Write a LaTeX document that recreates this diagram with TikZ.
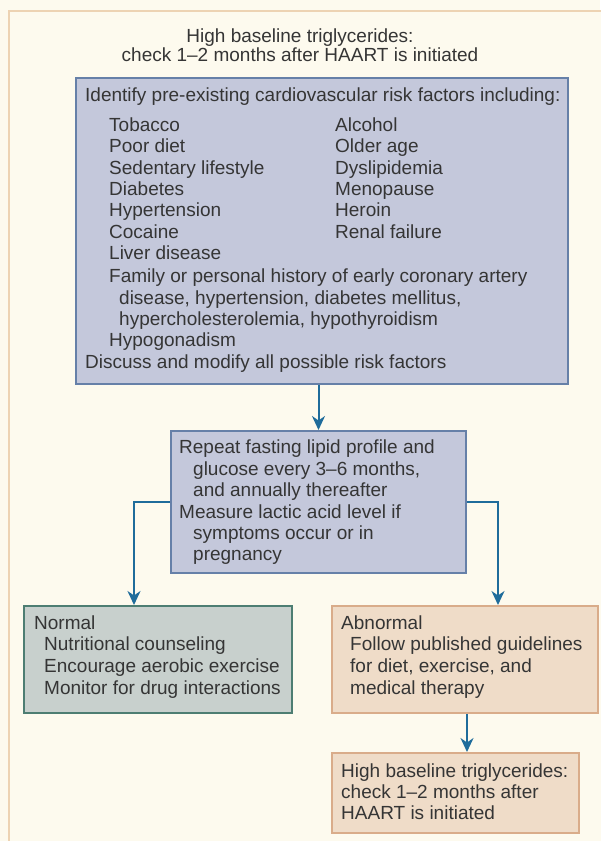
\documentclass[tikz,border=0pt]{standalone}
\usepackage{fontspec}
\setmainfont{Liberation Sans}
\usetikzlibrary{arrows.meta,calc}
\definecolor{frameborder}{HTML}{EDD3B3}
\definecolor{framefill}{HTML}{FDFAEE}
\definecolor{bluefill}{HTML}{C4C8DB}
\definecolor{blueline}{HTML}{6680A8}
\definecolor{greenfill}{HTML}{C8D0CD}
\definecolor{greenline}{HTML}{4D7D72}
\definecolor{tanfill}{HTML}{EFDCC8}
\definecolor{tanline}{HTML}{D9AC8A}
\definecolor{arrowblue}{HTML}{1F6C9B}
\definecolor{txt}{HTML}{353535}
\begin{document}
\begin{tikzpicture}[x=1pt,y=-1pt,
  box/.style={draw, line width=2pt, rectangle, inner sep=0pt, anchor=north west},
  bluebox/.style={box, draw=blueline, fill=bluefill},
  greenbox/.style={box, draw=greenline, fill=greenfill},
  tanbox/.style={box, draw=tanline, fill=tanfill},
  ln/.style={anchor=base west, inner sep=0pt, text=txt, font=\fontsize{19}{21}\selectfont},
  cln/.style={ln, anchor=base},
  arr/.style={draw=arrowblue, line width=2pt, -{Stealth[length=14pt,width=13pt,inset=4.5pt]}}
]
\useasboundingbox (0,0) rectangle (600,841);
\fill[framefill] (0,0) rectangle (600,841);
\draw[frameborder, line width=2.5pt, fill=framefill] (9,11) rectangle (640,880);

% title
\node[cln] (t1) at (300,42) {High baseline triglycerides:};
\node[cln] (t2) at (300,61) {check 1--2 months after HAART is initiated};

% boxes
\node[bluebox, minimum width=492pt, minimum height=306pt] (b1) at (75,77) {};
\node[bluebox, minimum width=295pt, minimum height=142pt] (b2) at (170,430) {};
\node[greenbox, minimum width=268pt, minimum height=107pt] (nor) at (23,605) {};
\node[tanbox, minimum width=266pt, minimum height=107pt] (abn) at (331,605) {};
\node[tanbox, minimum width=247pt, minimum height=80pt] (bot) at (331,752) {};

% box 1 text
\node[ln] (a0) at (85,101) {Identify pre-existing cardiovascular risk factors including:};
\node[ln] (a1) at (109,131) {Tobacco};
\node[ln] (a2) at (109,152) {Poor diet};
\node[ln] (a3) at (109,174) {Sedentary lifestyle};
\node[ln] (a4) at (109,195) {Diabetes};
\node[ln] (a5) at (109,216) {Hypertension};
\node[ln] (a6) at (109,238) {Cocaine};
\node[ln] (a7) at (109,259) {Liver disease};
\node[ln] (a8) at (109,282) {Family or personal history of early coronary artery};
\node[ln] (a9) at (119,304) {disease, hypertension, diabetes mellitus,};
\node[ln] (a10) at (119,325) {hypercholesterolemia, hypothyroidism};
\node[ln] (a11) at (109,346) {Hypogonadism};
\node[ln] (a12) at (85,368) {Discuss and modify all possible risk factors};
\node[ln] (c1) at (335,131) {Alcohol};
\node[ln] (c2) at (335,152) {Older age};
\node[ln] (c3) at (335,174) {Dyslipidemia};
\node[ln] (c4) at (335,195) {Menopause};
\node[ln] (c5) at (335,216) {Heroin};
\node[ln] (c6) at (335,238) {Renal failure};

% box 2 text
\node[ln] (r1) at (179,453) {Repeat fasting lipid profile and};
\node[ln] (r2) at (193,475) {glucose every 3--6 months,};
\node[ln] (r3) at (193,496) {and annually thereafter};
\node[ln] (r4) at (179,518) {Measure lactic acid level if};
\node[ln] (r5) at (193,539) {symptoms occur or in};
\node[ln] (r6) at (193,560) {pregnancy};

% normal text
\node[ln] (n1) at (34,629) {Normal};
\node[ln] (n2) at (44,650) {Nutritional counseling};
\node[ln] (n3) at (44,672) {Encourage aerobic exercise};
\node[ln] (n4) at (44,694) {Monitor for drug interactions};

% abnormal text
\node[ln] (m1) at (341,629) {Abnormal};
\node[ln] (m2) at (350,650) {Follow published guidelines};
\node[ln] (m3) at (350,672) {for diet, exercise, and};
\node[ln] (m4) at (350,694) {medical therapy};

% bottom text
\node[ln] (h1) at (341,777) {High baseline triglycerides:};
\node[ln] (h2) at (341,798) {check 1--2 months after};
\node[ln] (h3) at (341,819) {HAART is initiated};

% connectors
\draw[arr] (b2.north |- b1.south) -- (b2.north);
\draw[arr] (b2.west) -| ($(nor.north west)+(111,0)$);
\draw[arr] (b2.east) -| ($(abn.north west)+(167,0)$);
\draw[arr] ($(abn.south west)+(136,0)$) -- ($(bot.north west)+(136,0)$);
\end{tikzpicture}
\end{document}
